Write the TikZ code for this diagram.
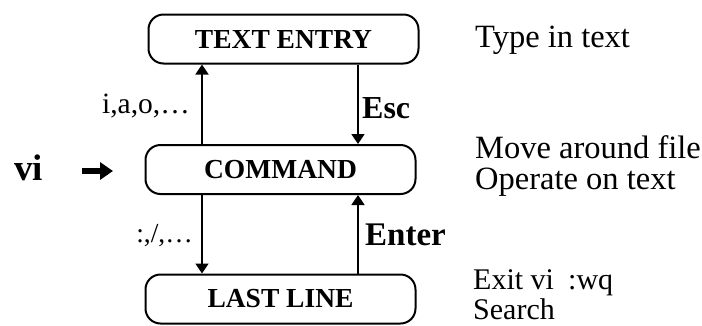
\documentclass[tikz,border=0pt]{standalone}
\usepackage{fontspec}
\setmainfont{Liberation Serif}
\usetikzlibrary{arrows.meta}
\begin{document}
\begin{tikzpicture}[x=1pt,y=-1pt,
  state/.style={draw, line width=2pt, rounded corners=15pt, minimum width=270pt, minimum height=49pt, inner sep=0pt, font=\fontsize{27.5}{30}\selectfont\bfseries},
  arr/.style={line width=1.8pt, -{Triangle[length=10pt,width=13pt]}},
  lbl/.style={inner sep=0pt, font=\fontsize{29.5}{32}\selectfont},
  keylbl/.style={inner sep=0pt, anchor=base west, font=\fontsize{32}{34}\selectfont\bfseries},
  note/.style={inner sep=0pt, anchor=base west, font=\fontsize{32.5}{34}\selectfont},
  smallnote/.style={note, font=\fontsize{30}{32}\selectfont},
  bigarrow/.style={line width=6.5pt, -{Triangle[length=13pt,width=17pt]}}
]
\useasboundingbox[fill=white] (0,0) rectangle (702,325);

\node[state] (te) at (283.5,39) {TEXT ENTRY};
\node[state] (cmd) at (280.5,169.5) {COMMAND};
\node[state] (ll) at (280.5,299) {LAST LINE};

\coordinate (lx) at (202,0);
\coordinate (rx) at (358,0);
\draw[arr] (lx |- cmd.north) -- (lx |- te.south);
\draw[arr] (rx |- te.south) -- (rx |- cmd.north);
\draw[arr] (lx |- cmd.south) -- (lx |- ll.north);
\draw[arr] (rx |- ll.north) -- (rx |- cmd.south);

\node[lbl, anchor=base east] (ia) at (190,113) {i,a,o,…};
\node[keylbl] (esc) at (362,118) {Esc};
\node[lbl, anchor=base east, font=\fontsize{27.5}{30}\selectfont] (colon) at (193,242) {:,/,…};
\node[keylbl, font=\fontsize{33}{35}\selectfont\bfseries] (enter) at (365,245) {Enter};

\node[inner sep=0pt, anchor=base west, font=\fontsize{37}{40}\selectfont\bfseries] (vi) at (14,180) {vi};
\coordinate (bs) at (82,171);
\coordinate (be) at (113,171);
\draw[bigarrow] (bs) -- (be);

\node[note] (n1) at (475,47) {Type in text};
\node[note] (n2) at (475,158) {Move around file};
\node[note] (n3) at (475,189) {Operate on text};
\node[smallnote] (n4) at (473,289) {\makebox[95pt][l]{Exit vi}:wq};
\node[smallnote] (n5) at (473,319) {Search};
\end{tikzpicture}
\end{document}
